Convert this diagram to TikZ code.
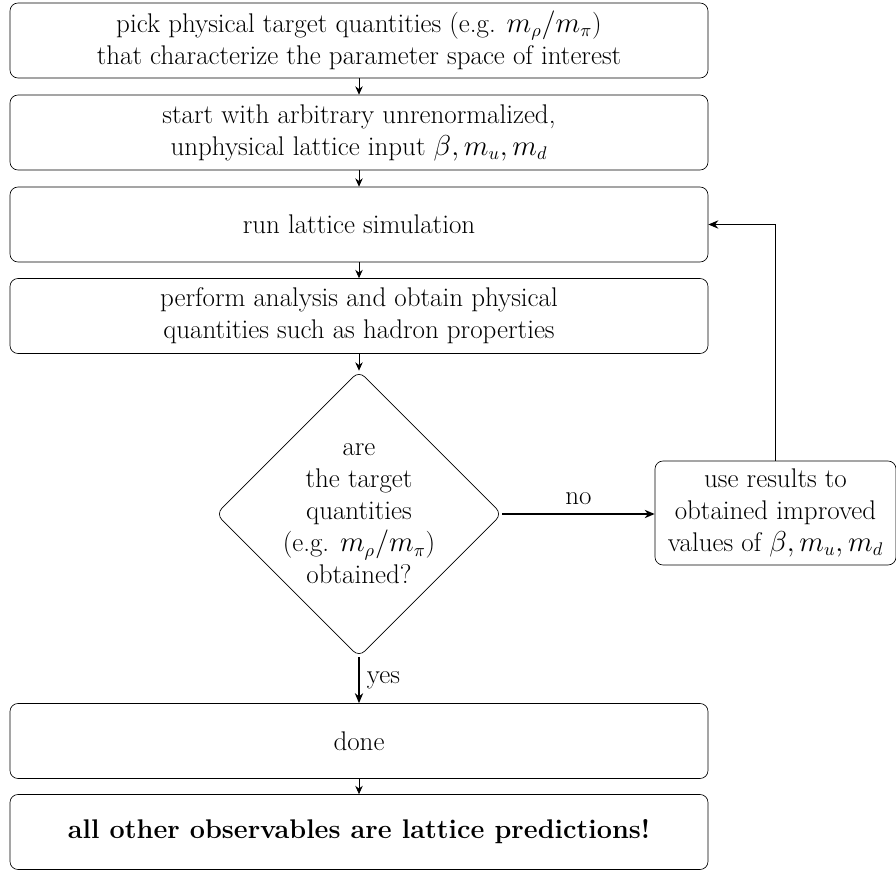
\documentclass[tikz,border=0pt]{standalone}
\usetikzlibrary{shapes.geometric,arrows.meta}
\begin{document}
\begin{tikzpicture}[x=0.6pt,y=-0.6pt,
  every node/.style={font=\fontsize{16.2}{19.2}\selectfont},
  procbox/.style={draw, rounded corners=8*0.6pt, minimum width=698*0.6pt, minimum height=75*0.6pt, inner sep=0pt, align=center},
  decbox/.style={draw, diamond, rounded corners=8*0.6pt, minimum width=286*0.6pt, minimum height=286*0.6pt, inner sep=-5pt, align=center},
  sidebox/.style={draw, rounded corners=8*0.6pt, minimum width=241*0.6pt, minimum height=104*0.6pt, inner sep=0pt, align=center},
  flow/.style={-{Stealth[length=5pt,width=4.5pt]}, line width=0.5pt},
  boldflow/.style={-{Stealth[length=6pt,width=5pt]}, thick}]
\useasboundingbox (0,0) rectangle (896,871);
\node[procbox] (pick) at (359,40.5) {pick physical target quantities (e.g. $m_\rho/m_\pi$)\\that characterize the parameter space of interest};
\node[procbox] (start) at (359,132.5) {start with arbitrary unrenormalized,\\unphysical lattice input $\beta, m_u, m_d$};
\node[procbox] (run) at (359,224.5) {run lattice simulation};
\node[procbox] (ana) at (359,316) {perform analysis and obtain physical\\quantities such as hadron properties};
\node[decbox] (dec) at (359,514) {are\\the target\\quantities\\(e.g. $m_\rho/m_\pi$)\\obtained?};
\node[sidebox] (use) at (775.5,513) {use results to\\obtained improved\\values of $\beta, m_u, m_d$};
\node[procbox] (done) at (359,741) {done};
\node[procbox] (all) at (359,832) {\textbf{all other observables are lattice predictions!}};
\draw[flow] (pick) -- (start);
\draw[flow] (start) -- (run);
\draw[flow] (run) -- (ana);
\draw[flow] (ana) -- (dec);
\draw[boldflow] (dec.east) -- node[above=2pt] {no} (dec.east -| use.west);
\draw[boldflow] (use.north) |- (run.east);
\draw[boldflow] (dec) -- node[right=1pt] {yes} (done);
\draw[flow] (done) -- (all);
\end{tikzpicture}
\end{document}
